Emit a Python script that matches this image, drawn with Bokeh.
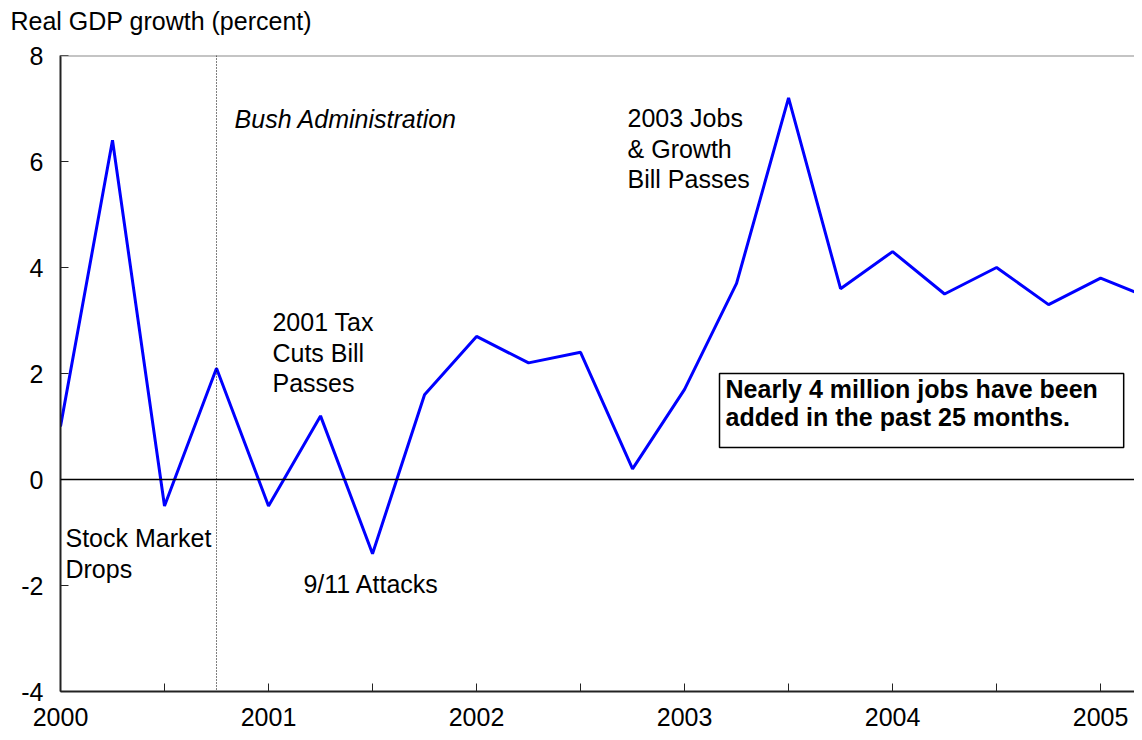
from bokeh.plotting import figure
from bokeh.models import (Range1d, FixedTicker, Span, Label, Title, PrintfTickFormatter,
                          BoxAnnotation)
from bokeh.embed import file_html
from bokeh.resources import INLINE

# ---- data ----
quarters = [2000.0, 2000.25, 2000.5, 2000.75,
            2001.0, 2001.25, 2001.5, 2001.75,
            2002.0, 2002.25, 2002.5, 2002.75,
            2003.0, 2003.25, 2003.5, 2003.75,
            2004.0, 2004.25, 2004.5, 2004.75,
            2005.0, 2005.25]
gdp_growth = [1.0, 6.4, -0.5, 2.1,
              -0.5, 1.2, -1.4, 1.6,
              2.7, 2.2, 2.4, 0.2,
              1.7, 3.7, 7.2, 3.6,
              4.3, 3.5, 4.0, 3.3,
              3.8, 3.4]
year_ticks = [2000, 2001, 2002, 2003, 2004, 2005]
half_year_ticks = [2000.5, 2001.5, 2002.5, 2003.5, 2004.5]
y_ticks = [-4, -2, 0, 2, 4, 6, 8]
bush_start = 2000.75

FONT = "Liberation Sans"
FS = "25px"

p = figure(width=1134, height=732, output_backend="svg", toolbar_location=None,
           x_range=Range1d(2000, 2005.163), y_range=Range1d(-4, 8),
           min_border_left=60, min_border_top=55, min_border_bottom=41,
           min_border_right=0)
p.title = Title(text="Real GDP growth (percent)\n ", align="left", offset=-50,
                text_font=FONT, text_font_size=FS, text_font_style="normal",
                text_color="black", vertical_align="top", standoff=12,
                text_line_height=0.45)
p.outline_line_color = None
p.xgrid.visible = False
p.ygrid.visible = False
p.background_fill_color = "white"
p.border_fill_color = "white"

# axes
p.xaxis.ticker = FixedTicker(ticks=year_ticks, minor_ticks=half_year_ticks)
p.yaxis.ticker = FixedTicker(ticks=y_ticks)
p.yaxis.formatter = PrintfTickFormatter(format="%d")
for ax in (p.xaxis[0], p.yaxis[0]):
    ax.axis_line_color = "#222222"
    ax.axis_line_width = 2
    ax.major_tick_in = 8
    ax.major_tick_out = 0
    ax.minor_tick_in = 8
    ax.minor_tick_out = 0
    ax.major_tick_line_color = "#222222"
    ax.minor_tick_line_color = "#222222"
    ax.major_label_text_font = FONT
    ax.major_label_text_font_size = FS
    ax.major_label_text_color = "black"
p.yaxis.major_label_standoff = 17
p.xaxis.major_label_standoff = 16

# reference lines
p.add_layout(Span(location=8, dimension="width", line_color="#8a8a8a", line_width=2))
p.add_layout(Span(location=0, dimension="width", line_color="black", line_width=1.5))
p.add_layout(Span(location=bush_start, dimension="height", line_color="black",
                  line_width=1, line_dash="1 2"))

# data line
p.line(quarters, gdp_growth, line_color="#0000ff", line_width=3)

def note(x, y, t, style="normal"):
    p.add_layout(Label(x=x, y=y, text=t, text_font=FONT, text_font_size=FS,
                       text_font_style=style, text_align="left",
                       text_baseline="middle", text_line_height=1.09,
                       text_color="black"))

note(2000.837, 6.81, "Bush Administration", "italic")
note(2002.726, 6.245, "2003 Jobs\n& Growth\nBill Passes")
note(2001.019, 2.396, "2001 Tax\nCuts Bill\nPasses")
note(2000.024, -1.396, "Stock Market\nDrops")
note(2001.168, -1.98, "9/11 Attacks")

# callout box
p.add_layout(BoxAnnotation(left=2003.168, right=2005.111, top=2.0, bottom=0.604,
                           fill_color="white", fill_alpha=1.0,
                           line_color="black", line_width=1.5, line_alpha=1.0))
p.add_layout(Label(x=2003.197, y=1.443,
                   text="Nearly 4 million jobs have been\nadded in the past 25 months.",
                   text_font=FONT, text_font_size=FS, text_font_style="bold",
                   text_align="left", text_baseline="middle", text_line_height=1.03,
                   text_color="black"))

open("out.html", "w").write(file_html(p, INLINE))
